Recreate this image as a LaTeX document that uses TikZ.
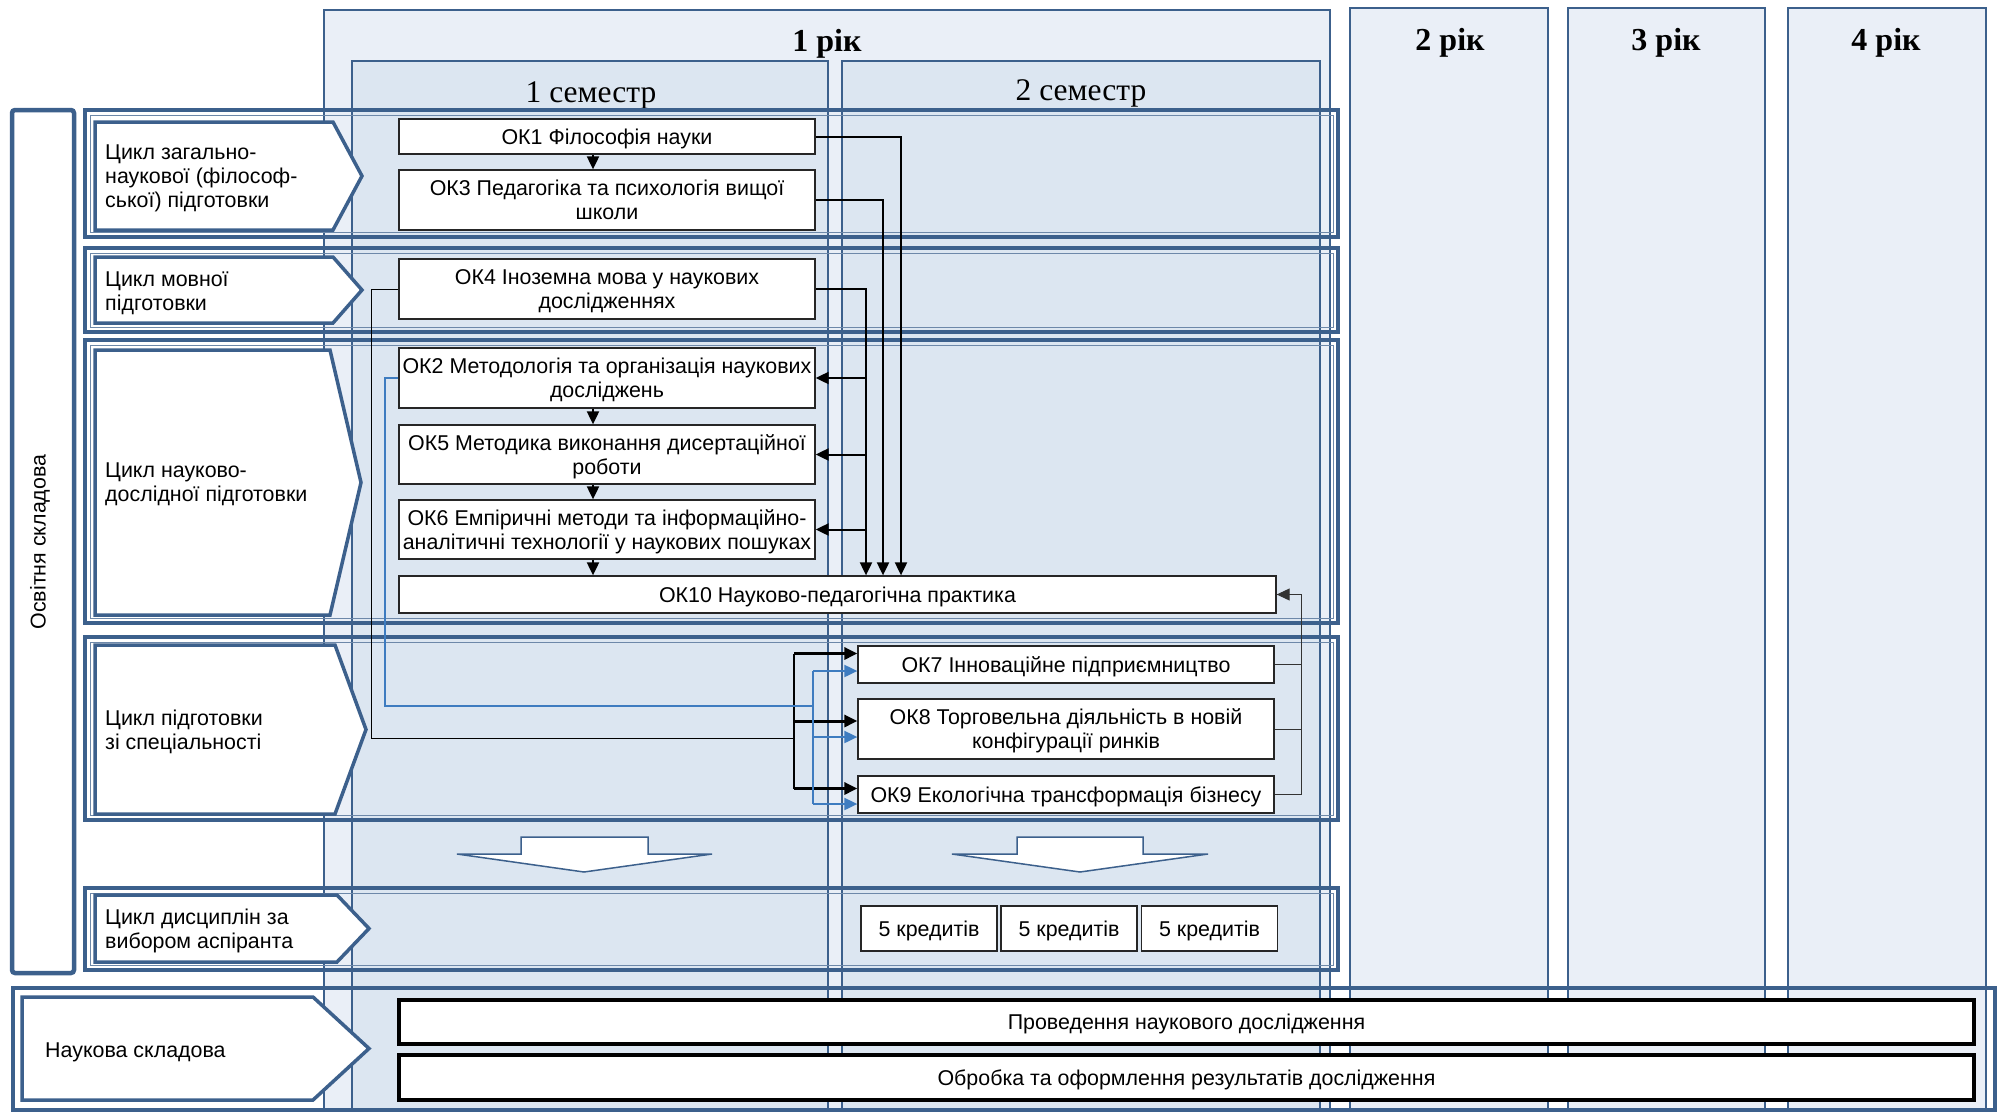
\documentclass[tikz,border=0pt]{standalone}
\usepackage{fontspec}
\setmainfont{Liberation Serif}
\setsansfont{Liberation Sans}
\usetikzlibrary{arrows.meta,calc,positioning}
\definecolor{frameblue}{RGB}{60,96,140}
\definecolor{yearfill}{RGB}{234,239,247}
\definecolor{semfill}{RGB}{220,230,241}
\definecolor{linkblue}{RGB}{62,124,192}
\newcommand{\boxfont}{\sffamily\fontsize{21.4}{24}\selectfont}
% left, top, right of body, tip, bottom
\newcommand{\cycarrow}[5]{%
  \draw[cyc] (#1,#2) -- (#3,#2) -- (#4,{(#2+#5)/2}) -- (#3,#5) -- (#1,#5) -- cycle;}
\newcommand{\rowframe}[4]{%
  \draw[rowbox] (#1,#2) rectangle (#3,#4);
  \draw[rowinner] (#1+5,#2+5) rectangle (#3-5,#4-5);}

\begin{document}
\begin{tikzpicture}[x=1pt,y=-1pt,
  yearbox/.style={draw=frameblue,line width=2pt,fill=yearfill},
  sembox/.style={draw=frameblue,line width=2.5pt,fill=semfill},
  rowbox/.style={draw=frameblue,line width=4.5pt},
  rowinner/.style={draw=frameblue!75,line width=1pt},
  cyc/.style={draw=frameblue,line width=3.5pt,fill=white},
  cyctext/.style={font=\boxfont,align=left,anchor=west,inner sep=0pt},
  okbox/.style={draw=black!85,line width=1.3pt,fill=white,font=\boxfont,align=center,inner sep=0pt,text depth=-4.5pt},
  resbox/.style={okbox,draw=black,line width=4pt},
  wire/.style={line width=1pt},
  link/.style={line width=2pt,-{Triangle[length=13pt,width=12pt]}},
  bluelink/.style={draw=linkblue,line width=2pt,-{Triangle[length=13pt,width=12pt]}},
  bigarrow/.style={draw=frameblue,line width=1.5pt,fill=white},
  head/.style={font=\rmfamily\bfseries\fontsize{32}{34}\selectfont},
  semhead/.style={font=\rmfamily\fontsize{31.5}{34}\selectfont}]
  \useasboundingbox (0,0) rectangle (2001,1111);

  % years and semesters
  \draw[yearbox] (324,10) rectangle (1330,1111);
  \draw[yearbox] (1350,8) rectangle (1548,1111);
  \draw[yearbox] (1568,8) rectangle (1765,1111);
  \draw[yearbox] (1788,8) rectangle (1986,1111);
  \draw[sembox] (352,61) rectangle (828,1111);
  \draw[sembox] (842,61) rectangle (1320,1111);
  \node[head] (y1) at (827,44) {1 рік};
  \node[head] (y2) at (1450,43) {2 рік};
  \node[head] (y3) at (1666,43) {3 рік};
  \node[head] (y4) at (1886,43) {4 рік};
  \node[semhead] (s1) at (591,95) {1 семестр};
  \node[semhead] (s2) at (1081,93) {2 семестр};

  % cycles
  \rowframe{85}{110}{1338}{237}
  \rowframe{85}{248}{1338}{332}
  \rowframe{85}{340}{1338}{623}
  \rowframe{85}{637}{1338}{820}
  \rowframe{85}{888}{1338}{970}
  \draw[rowbox] (13,988) rectangle (1995,1110);
  \draw[draw=frameblue,line width=4.5pt,fill=white,rounded corners=3pt] (12,110) rectangle (74,973);
  \node[rotate=90,font=\boxfont] (osv) at (40,542) {Освітня складова};

  \cycarrow{95}{122}{333}{362}{230}
  \cycarrow{95}{257}{333}{362}{323}
  \cycarrow{95}{350}{330}{361}{615}
  \cycarrow{95}{645}{335}{366}{814}
  \cycarrow{95}{895}{337}{369}{962}
  \cycarrow{22}{997}{313}{369}{1100}
  \node[cyctext] (c1) at (105,178) {Цикл загально-\\наукової (філософ-\\ської) підготовки};
  \node[cyctext] (c2) at (105,293) {Цикл мовної\\підготовки};
  \node[cyctext] (c3) at (105,484) {Цикл науково-\\дослідної підготовки};
  \node[cyctext] (c4) at (105,732) {Цикл підготовки\\зі спеціальності};
  \node[cyctext] (c5) at (105,931) {Цикл дисциплін за\\вибором аспіранта};
  \node[cyctext] (c6) at (45,1052) {Наукова складова};

  % disciplines
  \node[okbox,minimum width=416pt,minimum height=35pt] (ok1) at (607,136.5) {ОК1 Філософія науки};
  \node[okbox,minimum width=416pt,minimum height=60pt] (ok3) at (607,200) {ОК3 Педагогіка та психологія вищої\\школи};
  \node[okbox,minimum width=416pt,minimum height=60pt] (ok4) at (607,289) {ОК4 Іноземна мова у наукових\\дослідженнях};
  \node[okbox,minimum width=416pt,minimum height=60pt] (ok2) at (607,378) {ОК2 Методологія та організація наукових\\досліджень};
  \node[okbox,minimum width=416pt,minimum height=59pt] (ok5) at (607,454.5) {ОК5 Методика виконання дисертаційної\\роботи};
  \node[okbox,minimum width=416pt,minimum height=59pt] (ok6) at (607,529.5) {ОК6 Емпіричні методи та інформаційно-\\аналітичні технології у наукових пошуках};
  \node[okbox,minimum width=877pt,minimum height=37pt] (ok10) at (837.5,594.5) {ОК10 Науково-педагогічна практика};
  \node[okbox,minimum width=416pt,minimum height=37pt] (ok7) at (1066,664.5) {ОК7 Інноваційне підприємництво};
  \node[okbox,minimum width=416pt,minimum height=60pt] (ok8) at (1066,729) {ОК8 Торговельна діяльність в новій\\конфігурації ринків};
  \node[okbox,minimum width=416pt,minimum height=37pt] (ok9) at (1066,794.5) {ОК9 Екологічна трансформація бізнесу};
  \node[okbox,minimum width=136pt,minimum height=45pt] (cr1) at (929,928.5) {5 кредитів};
  \node[okbox,minimum width=136pt,minimum height=45pt] (cr2) at (1069,928.5) {5 кредитів};
  \node[okbox,minimum width=136pt,minimum height=45pt] (cr3) at (1209.5,928.5) {5 кредитів};
  \node[resbox,minimum width=1575pt,minimum height=44pt] (res1) at (1186.5,1022) {Проведення наукового дослідження};
  \node[resbox,minimum width=1575pt,minimum height=45pt] (res2) at (1186.5,1077.5) {Обробка та оформлення результатів дослідження};

  % sequence inside first semester
  \coordinate (ax) at (593,0);
  \draw[link] (ok1.south -| ax) -- (ok3.north -| ax);
  \draw[link] (ok2.south -| ax) -- (ok5.north -| ax);
  \draw[link] (ok5.south -| ax) -- (ok6.north -| ax);
  \draw[link] (ok6.south -| ax) -- (ok10.north -| ax);

  % links to practice
  \coordinate (v1) at (901,0);
  \coordinate (v2) at (883,0);
  \coordinate (v3) at (866,0);
  \coordinate (v4) at (1301,0);
  \draw[link] (ok1.east) -| (v1 |- ok10.north);
  \draw[link] (ok3.east) -| (v2 |- ok10.north);
  \draw[link] (ok4.east) -| (v3 |- ok10.north);
  \foreach \k in {ok2,ok5,ok6}
    \draw[link] (v3 |- \k.east) -- (\k.east);
  \draw[wire,black!80] (ok7.east) -- (v4 |- ok7.east);
  \draw[wire,black!80] (ok8.east) -- (v4 |- ok8.east);
  \draw[wire,black!80,-{Triangle[length=13pt,width=12pt]}] (ok9.east) -- (v4 |- ok9.east) |- (ok10.east);

  % links to speciality cycle
  \coordinate (b1) at (371,738);
  \coordinate (sk) at (794,0);
  \draw[wire] (ok4.west) -| (b1) -- (b1 -| sk);
  \draw[wire,line width=1.3pt] ($(ok7.west -| sk)+(0,-11)$) -- ($(ok9.west -| sk)+(0,-6)$);
  \foreach \k/\d in {ok7/-11,ok8/-8,ok9/-6}
    \draw[link,line width=3pt] ($(\k.west -| sk)+(0,\d)$) -- ($(\k.west)+(0,\d)$);
  \coordinate (b2) at (385,706);
  \coordinate (bk) at (813,0);
  \draw[linkblue,line width=1.1pt] (ok2.west) -| (b2) -- (b2 -| bk);
  \draw[linkblue,line width=1.5pt] ($(ok7.west -| bk)+(0,6.5)$) -- ($(ok9.west -| bk)+(0,9.5)$);
  \foreach \k/\d in {ok7/6.5,ok8/8,ok9/9.5}
    \draw[bluelink] ($(\k.west -| bk)+(0,\d)$) -- ($(\k.west)+(0,\d)$);

  % block arrows
  \draw[bigarrow] (521,837) -- (648,837) -- (648,854) -- (712,854) -- (584,872) -- (457,854) -- (521,854) -- cycle;
  \draw[bigarrow] (1017,837) -- (1143,837) -- (1143,854) -- (1208,854) -- (1080,872) -- (952,854) -- (1017,854) -- cycle;
\end{tikzpicture}
\end{document}
